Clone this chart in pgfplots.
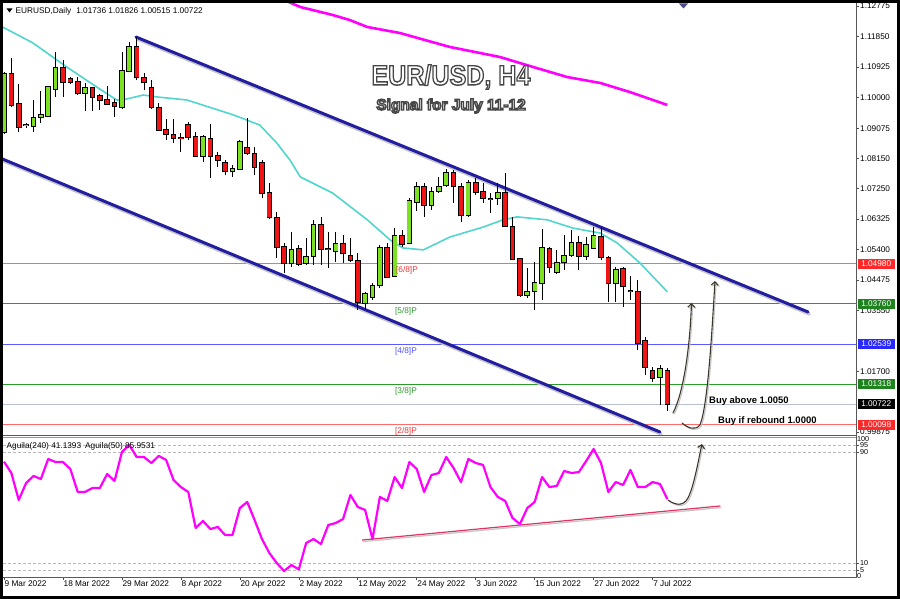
\documentclass[border=0pt]{standalone}
\usepackage{pgfplots}
\pgfplotsset{compat=1.18}
\usepackage{pgfplotstable}
\usepackage{graphicx}
\usepackage{fontspec}
\setmainfont{Liberation Sans}
\usetikzlibrary{arrows.meta}

\definecolor{cup}{RGB}{125,225,35}
\definecolor{cdn}{RGB}{240,20,20}
\definecolor{chan}{RGB}{35,30,160}
\definecolor{maC}{RGB}{80,215,205}
\definecolor{maM}{RGB}{255,0,255}
\definecolor{lvR}{RGB}{255,105,105}
\definecolor{lvG}{RGB}{40,155,40}
\definecolor{lvB}{RGB}{90,90,255}
\definecolor{lvK}{RGB}{185,192,208}
\definecolor{txR}{RGB}{235,55,55}
\definecolor{txG}{RGB}{50,150,50}
\definecolor{txB}{RGB}{80,80,255}
\definecolor{boxR}{RGB}{255,40,40}
\definecolor{boxG}{RGB}{30,130,30}
\definecolor{boxB}{RGB}{40,40,255}
\definecolor{trendP}{RGB}{225,50,100}
\definecolor{arr}{RGB}{60,55,45}

\newcommand\sm{\fontsize{8.3}{9}\selectfont}
% white text with a dark outline (fill + stroke text rendering)
\newcommand\outlined[1]{\special{pdf:literal direct 2 Tr 1.4 w 0.28 0.28 0.28 RG}#1\special{pdf:literal direct 0 Tr}}

% up candles: bar index, open, high, low, close
\pgfplotstableread{
x o h l c
0 1.0896 1.1078 1.0890 1.1072
3 1.0916 1.0923 1.0908 1.0917
4 1.0914 1.0993 1.0896 1.0941
5 1.0941 1.1020 1.0923 1.0948
6 1.0944 1.1035 1.0941 1.1032
7 1.1026 1.1138 1.1002 1.1090
11 1.1014 1.1044 1.0960 1.1029
16 1.0969 1.1138 1.0965 1.1081
17 1.1081 1.1169 1.1078 1.1156
27 1.0823 1.0887 1.0805 1.0881
31 1.0778 1.0796 1.0760 1.0784
32 1.0784 1.0872 1.0781 1.0866
39 1.0499 1.0593 1.0487 1.0539
41 1.0499 1.0575 1.0493 1.0518
42 1.0518 1.0630 1.0493 1.0617
45 1.0533 1.0593 1.0502 1.0557
49 1.0378 1.0412 1.0357 1.0406
50 1.0396 1.0439 1.0387 1.0430
51 1.0430 1.0554 1.0424 1.0545
53 1.0460 1.0605 1.0457 1.0581
55 1.0560 1.0696 1.0558 1.0687
56 1.0684 1.0745 1.0657 1.0730
58 1.0675 1.0730 1.0660 1.0717
59 1.0717 1.0760 1.0711 1.0730
60 1.0733 1.0784 1.0730 1.0772
63 1.0642 1.0751 1.0639 1.0742
67 1.0696 1.0742 1.0675 1.0711
71 1.0402 1.0484 1.0393 1.0412
72 1.0412 1.0503 1.0357 1.0439
73 1.0439 1.0602 1.0387 1.0545
75 1.0472 1.0539 1.0466 1.0502
76 1.0502 1.0584 1.0478 1.0521
77 1.0521 1.0599 1.0518 1.0560
79 1.0518 1.0578 1.0508 1.0554
80 1.0545 1.0608 1.0542 1.0581
83 1.0439 1.0487 1.0381 1.0478
89 1.0154 1.0191 1.0069 1.0181
}\upc

% down candles
\pgfplotstableread{
x o h l c
1 1.1072 1.1120 1.0972 1.0978
2 1.0981 1.1041 1.0896 1.0911
8 1.1090 1.1114 1.1002 1.1047
9 1.1057 1.1063 1.1041 1.1047
10 1.1050 1.1063 1.1008 1.1014
12 1.1029 1.1032 1.0960 1.1002
13 1.1005 1.1011 1.0963 1.0993
14 1.0993 1.1035 1.0978 1.0981
15 1.0984 1.0996 1.0941 1.0972
18 1.1156 1.1184 1.1053 1.1060
19 1.1062 1.1075 1.1023 1.1047
20 1.1029 1.1053 1.0966 1.0969
21 1.0969 1.0984 1.0900 1.0902
22 1.0902 1.0935 1.0872 1.0890
23 1.0887 1.0935 1.0863 1.0878
24 1.0878 1.0893 1.0835 1.0877
25 1.0917 1.0926 1.0872 1.0881
26 1.0881 1.0896 1.0820 1.0823
28 1.0875 1.0920 1.0757 1.0823
29 1.0826 1.0836 1.0790 1.0811
30 1.0802 1.0811 1.0766 1.0778
33 1.0848 1.0938 1.0826 1.0832
34 1.0832 1.0851 1.0766 1.0790
35 1.0802 1.0811 1.0696 1.0711
36 1.0711 1.0742 1.0634 1.0636
37 1.0636 1.0654 1.0515 1.0548
38 1.0548 1.0560 1.0469 1.0499
40 1.0542 1.0554 1.0490 1.0496
43 1.0617 1.0639 1.0493 1.0539
44 1.0542 1.0593 1.0484 1.0540
46 1.0557 1.0584 1.0499 1.0527
47 1.0521 1.0575 1.0502 1.0508
48 1.0508 1.0530 1.0357 1.0381
52 1.0545 1.0560 1.0454 1.0457
54 1.0581 1.0599 1.0548 1.0557
57 1.0730 1.0742 1.0639 1.0675
61 1.0772 1.0781 1.0681 1.0730
62 1.0730 1.0742 1.0624 1.0642
64 1.0742 1.0757 1.0705 1.0714
65 1.0717 1.0742 1.0681 1.0696
66 1.0693 1.0711 1.0651 1.0692
68 1.0711 1.0772 1.0608 1.0611
69 1.0611 1.0639 1.0508 1.0511
70 1.0514 1.0515 1.0396 1.0402
74 1.0542 1.0548 1.0469 1.0487
78 1.0560 1.0581 1.0478 1.0518
81 1.0578 1.0608 1.0508 1.0515
82 1.0515 1.0521 1.0381 1.0439
84 1.0481 1.0487 1.0366 1.0427
85 1.0415 1.0460 1.0387 1.0412
86 1.0412 1.0448 1.0236 1.0257
87 1.0263 1.0275 1.0160 1.0184
88 1.0175 1.0184 1.0139 1.0151
90 1.01736 1.01826 1.00515 1.00722
}\dnc

% Aguila(50) indicator
\pgfplotstableread{
x v
0 83.0
1 74.8
2 55.4
3 67.6
4 72.7
5 70.5
6 84.9
7 82.7
8 82.7
9 77.7
10 61.2
11 61.2
12 64.0
13 64.0
14 74.1
15 69.1
16 89.9
17 95.0
18 86.3
19 86.3
20 82.0
21 87.1
22 84.2
23 69.8
24 64.7
25 61.2
26 35.3
27 40.3
28 34.5
29 36.0
30 30.2
31 30.2
32 49.6
33 54.0
34 41.0
35 27.3
36 17.3
37 10.1
38 4.3
39 8.6
40 5.5
41 24.5
42 27.3
43 23.7
44 37.4
45 38.8
46 41.7
47 59.0
48 50.4
49 48.2
50 27.3
51 57.6
52 54.7
53 71.9
54 64.0
55 82.7
56 77.7
57 61.2
58 73.4
59 74.8
60 86.3
61 78.4
62 68.3
63 84.9
64 82.0
65 80.6
66 64.7
67 57.6
68 54.7
69 42.4
70 38.1
71 49.6
72 54.0
73 71.9
74 64.7
75 65.5
76 76.3
77 74.8
78 75.5
79 83.5
80 92.1
81 82.0
82 61.2
83 68.3
84 66.2
85 77.0
86 64.7
87 64.7
88 68.3
89 66.9
90 56.1
}\aguila

\begin{document}
\begin{tikzpicture}
\useasboundingbox (0,0) rectangle (900bp,599bp);
\fill[white] (0,0) rectangle (900bp,599bp);

% ---------------- main price panel ----------------
\begin{axis}[at={(3bp,164bp)}, anchor=south west, scale only axis,
  width=853bp, height=431bp,
  xmin=-0.136, xmax=115.6, ymin=0.99785, ymax=1.12836,
  axis line style={draw=none},
  xtick=\empty,
  ytick={1.12775,1.1185,1.10925,1.1,1.09075,1.0815,1.0725,1.06325,1.054,1.04475,1.0355,1.017,0.99875},
  yticklabels={1.12775,1.11850,1.10925,1.10000,1.09075,1.08150,1.07250,1.06325,1.05400,1.04475,1.03550,1.01700,0.99875},
  scaled y ticks=false,
  ytick pos=right, yticklabel pos=right,
  tick align=outside, major tick length=3bp,
  tick style={black!70, line width=0.6bp},
  yticklabel style={font=\sm, anchor=west, inner xsep=1bp, inner ysep=0bp},
]
% level lines
\addplot[lvR, line width=0.9bp, forget plot] coordinates {(-1,1.04980) (117,1.04980)};
\addplot[lvG, line width=0.9bp, forget plot] coordinates {(-1,1.03760) (117,1.03760)};
\addplot[lvB, line width=0.9bp, forget plot] coordinates {(-1,1.02539) (117,1.02539)};
\addplot[lvG, line width=0.9bp, forget plot] coordinates {(-1,1.01318) (117,1.01318)};
\addplot[lvK, line width=0.9bp, forget plot] coordinates {(-1,1.00722) (117,1.00722)};
\addplot[lvR, line width=0.9bp, forget plot] coordinates {(-1,1.00098) (117,1.00098)};

% moving averages
\addplot[maC, line width=1.6bp, forget plot] coordinates {
(-0.2,1.1214) (3.9,1.1166) (8.5,1.1093) (13,1.1026) (15.3,1.0993) (16.1,1.0993)
(18.9,1.1008) (20.8,1.1002) (24.8,1.0993) (31.1,1.0948) (34.7,1.0917) (37,1.0863)
(38.8,1.0811) (40.2,1.0760) (44.6,1.0711) (49.3,1.0630) (52.4,1.0569) (54.1,1.0545)
(56.9,1.0539) (60.5,1.0578) (65,1.0608) (67.7,1.0630) (69.6,1.0639) (73.7,1.0630)
(77.2,1.0605) (80.9,1.0590) (83.2,1.0560) (86.3,1.0499) (90,1.0412)};
\addplot[maM, line width=2.6bp, forget plot] coordinates {
(38.6,1.1290) (40.2,1.12745) (44.6,1.12503) (46.9,1.12351) (49.3,1.12139) (53.7,1.11958)
(60.5,1.11534) (67.3,1.1123) (71.8,1.10928) (76.4,1.10625) (80.9,1.10444) (84.9,1.10171) (90,1.09778)};

% channel with shadow
\addplot[gray!45, line width=3bp, line cap=round, xshift=1.3bp, yshift=-2.2bp, forget plot] coordinates {(17.9,1.11837) (109.1,1.0351)};
\addplot[gray!45, line width=3bp, line cap=round, xshift=1.3bp, yshift=-2.2bp, forget plot] coordinates {(-0.54,1.08173) (89.0,0.99876)};
\addplot[chan, line width=3bp, line cap=round, forget plot] coordinates {(17.9,1.11837) (109.1,1.0351)};
\addplot[chan, line width=3bp, line cap=round, forget plot] coordinates {(-0.54,1.08173) (89.0,0.99876)};

% candles: wicks
\addplot[draw=none, mark=none, forget plot, error bars/.cd, y dir=plus, y explicit, error mark=none,
  error bar style={draw=black, line width=0.8bp}]
  table[x=x, y=l, y error expr=\thisrow{h}-\thisrow{l}] {\upc};
\addplot[draw=none, mark=none, forget plot, error bars/.cd, y dir=plus, y explicit, error mark=none,
  error bar style={draw=black, line width=0.8bp}]
  table[x=x, y=l, y error expr=\thisrow{h}-\thisrow{l}] {\dnc};
% bodies: outline
\addplot[draw=none, mark=none, forget plot, error bars/.cd, y dir=plus, y explicit, error mark=none,
  error bar style={draw=black, line width=5.6bp, shorten <=-0.6bp, shorten >=-0.6bp}]
  table[x=x, y=o, y error expr=\thisrow{c}-\thisrow{o}] {\upc};
\addplot[draw=none, mark=none, forget plot, error bars/.cd, y dir=plus, y explicit, error mark=none,
  error bar style={draw=black, line width=5.6bp, shorten <=-0.6bp, shorten >=-0.6bp}]
  table[x=x, y=c, y error expr=\thisrow{o}-\thisrow{c}] {\dnc};
% bodies: fill
\addplot[draw=none, mark=none, forget plot, error bars/.cd, y dir=plus, y explicit, error mark=none,
  error bar style={draw=cup, line width=3.8bp, shorten <=0.4bp, shorten >=0.4bp}]
  table[x=x, y=o, y error expr=\thisrow{c}-\thisrow{o}] {\upc};
\addplot[draw=none, mark=none, forget plot, error bars/.cd, y dir=plus, y explicit, error mark=none,
  error bar style={draw=cdn, line width=3.8bp, shorten <=0.4bp, shorten >=0.4bp}]
  table[x=x, y=c, y error expr=\thisrow{o}-\thisrow{c}] {\dnc};
\end{axis}

% ---------------- indicator panel ----------------
\begin{axis}[at={(3bp,22bp)}, anchor=south west, scale only axis,
  width=853bp, height=139bp,
  xmin=-0.136, xmax=115.6, ymin=0, ymax=100,
  axis line style={draw=none},
  xtick={0,8,16,24,32,40,48,56,64,72,80,88},
  xticklabels={9 Mar 2022,18 Mar 2022,29 Mar 2022,8 Apr 2022,20 Apr 2022,2 May 2022,12 May 2022,24 May 2022,3 Jun 2022,15 Jun 2022,27 Jun 2022,7 Jul 2022},
  xtick pos=left, xticklabel pos=left,
  ytick={5,10,90,95}, yticklabels={5,10,90,95},
  ytick pos=right, yticklabel pos=right,
  extra y ticks={99.4,0.6}, extra y tick labels={100,0},
  extra y tick style={grid=none, major tick length=0bp},
  tick align=outside, major tick length=3bp,
  tick style={black!70, line width=0.6bp},
  ymajorgrids, major grid style={gray!55, line width=0.6bp, dash pattern=on 3bp off 2bp},
  xticklabel style={font=\sm, anchor=north west, inner sep=0.5bp},
  yticklabel style={font=\fontsize{7.2}{8}\selectfont, anchor=west, inner xsep=1bp, inner ysep=0bp},
]
\addplot[gray!45, line width=1.2bp, xshift=1bp, yshift=-1.6bp, forget plot] coordinates {(48.6,26.6) (97.2,51.1)};
\addplot[trendP, line width=1.2bp, forget plot] coordinates {(48.6,26.6) (97.2,51.1)};
\addplot[maM, line width=2.2bp, line join=round, forget plot] table[x=x, y=v] {\aguila};
\end{axis}

% ---------------- frame, labels and annotations (image pixel coordinates) ----------------
\begin{scope}[x=1bp, y=-1bp, yshift=599bp]
  % panel borders
  \draw[black!65, line width=0.8bp] (856,3) -- (856,578);
  \draw[black!65, line width=0.9bp] (3,435.4) -- (856,435.4);
  \draw[black!40, line width=0.8bp] (3,437.8) -- (856,437.8);
  \draw[black!65, line width=0.8bp] (3,577.6) -- (856,577.6);
  \draw[black, line width=2.8bp] (1.4,1.4) rectangle (898.6,597.6);

  % header
  \fill[black] (6.5,8.5) -- (12.5,8.5) -- (9.5,12.5) -- cycle;
  \node[anchor=west, font=\sm, inner sep=0] at (15.5,11.5) {EURUSD,Daily\hspace{5bp}1.01736 1.01826 1.00515 1.00722};
  \fill[black!45!blue!40!gray] (679,3.5) -- (688,3.5) -- (683.5,8.5) -- cycle;

  % indicator label
  \node[anchor=west, font=\sm, inner sep=0] at (6.5,446.5) {Aguila(240) 41.1393\hspace{4bp}Aguila(50) 85.9531};

  % title (white, dark outline)
  \node[text=white, font=\fontsize{28}{30}\selectfont\bfseries] at (451,77) {\outlined{\scalebox{0.9}[1]{EUR/USD, H4}}};
  \node[text=white, font=\fontsize{15.5}{17}\selectfont\bfseries] at (451,106) {\outlined{Signal for July 11-12}};

  % murrey labels
  \node[anchor=west, font=\sm, text=txR, inner sep=0] at (396,270.5) {[6/8]P};
  \node[anchor=west, font=\sm, text=txG, inner sep=0] at (395,311) {[5/8]P};
  \node[anchor=west, font=\sm, text=txB, inner sep=0] at (395,351) {[4/8]P};
  \node[anchor=west, font=\sm, text=txG, inner sep=0] at (395,391) {[3/8]P};
  \node[anchor=west, font=\sm, text=txR, inner sep=0] at (395,431) {[2/8]P};

  % signal texts
  \node[anchor=west, font=\fontsize{9.5}{11}\selectfont\bfseries, inner sep=0] at (709,401) {Buy above 1.0050};
  \node[anchor=west, font=\fontsize{9.5}{11}\selectfont\bfseries, inner sep=0] at (718,421.5) {Buy if rebound 1.0000};

  % hand drawn arrows (shadow then stroke)
  \begin{scope}[line width=1.1bp, line cap=round]
    \draw[gray!45, xshift=1.2bp, yshift=-1.2bp, -{Straight Barb[length=3.5bp,width=7bp]}]
      (673,413) .. controls (684,392) and (690,345) .. (691.5,303);
    \draw[arr, -{Straight Barb[length=3.5bp,width=7bp]}]
      (673,413) .. controls (684,392) and (690,345) .. (691.5,303);
    \draw[gray!45, xshift=1.2bp, yshift=-1.2bp, -{Straight Barb[length=3.5bp,width=7bp]}]
      (682,423) .. controls (688,428) and (695,431) .. (700,425) .. controls (708,405) and (712,330) .. (715,281);
    \draw[arr, -{Straight Barb[length=3.5bp,width=7bp]}]
      (682,423) .. controls (688,428) and (695,431) .. (700,425) .. controls (708,405) and (712,330) .. (715,281);
    \draw[gray!45, xshift=1.2bp, yshift=-1.2bp, -{Straight Barb[length=3.5bp,width=7bp]}]
      (668,500) .. controls (675,505) and (683,507) .. (688,498) .. controls (694,486) and (698,462) .. (702,444);
    \draw[arr, -{Straight Barb[length=3.5bp,width=7bp]}]
      (668,500) .. controls (675,505) and (683,507) .. (688,498) .. controls (694,486) and (698,462) .. (702,444);
  \end{scope}

  % price boxes on the right scale
  \begin{scope}[every node/.style={anchor=west, font=\sm, text=white, inner xsep=1.5bp, inner ysep=1bp, minimum width=37bp, minimum height=10.5bp}]
    \node[fill=boxR] at (857.5,264) {1.04980};
    \node[fill=boxG] at (857.5,304) {1.03760};
    \node[fill=boxB] at (857.5,344) {1.02539};
    \node[fill=boxG] at (857.5,384) {1.01318};
    \node[fill=black] at (857.5,404) {1.00722};
    \node[fill=boxR] at (857.5,425) {1.00098};
  \end{scope}
\end{scope}
\end{tikzpicture}
\end{document}
